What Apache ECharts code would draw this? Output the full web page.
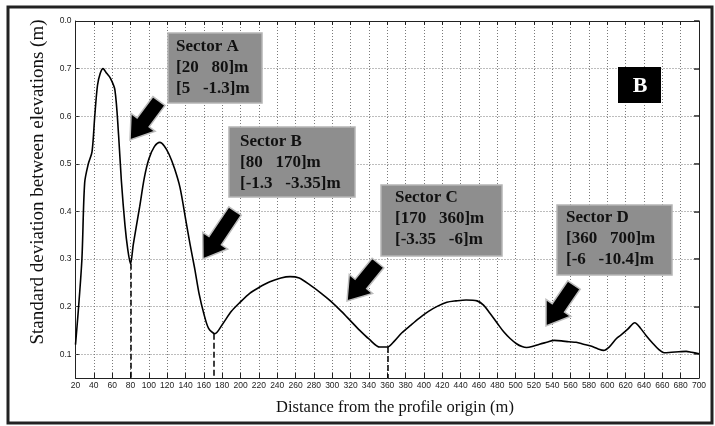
<!DOCTYPE html>
<html>
<head>
<meta charset="utf-8">
<script src="https://cdn.jsdelivr.net/npm/echarts@6/dist/echarts.min.js"></script>
<style>html,body{margin:0;padding:0;background:#fff;}#c{width:715px;height:426px;}</style>
</head>
<body>
<div id="c"></div>
<script>
// ---- data ----
var distance = [20,23,27,30,34,38,41,44,47,50,54,58,63,67,70,74,77,80,83,86,90,95,100,106,112,117,122,128,134,140,145,150,155,160,165,172,180,190,200,210,220,232,244,254,264,276,288,298,310,320,330,340,352,360,368,376,385,395,405,415,425,435,446,458,465,472,480,487,494,501,507,512,518,526,534,542,550,558,566,574,582,590,596,602,610,616,622,630,636,642,650,656,662,670,678,686,692,700];
var stdDev = [0.12,0.19,0.30,0.46,0.50,0.525,0.60,0.665,0.69,0.70,0.69,0.68,0.655,0.56,0.465,0.37,0.32,0.29,0.33,0.365,0.41,0.47,0.51,0.536,0.545,0.537,0.52,0.49,0.45,0.385,0.33,0.28,0.225,0.185,0.155,0.143,0.162,0.19,0.21,0.228,0.24,0.252,0.26,0.263,0.26,0.245,0.228,0.212,0.19,0.17,0.15,0.132,0.115,0.115,0.128,0.145,0.16,0.176,0.19,0.201,0.209,0.212,0.214,0.212,0.203,0.186,0.165,0.147,0.133,0.122,0.116,0.114,0.116,0.121,0.125,0.129,0.128,0.126,0.125,0.121,0.117,0.111,0.108,0.115,0.133,0.142,0.152,0.166,0.155,0.14,0.122,0.11,0.103,0.104,0.105,0.106,0.104,0.101];
var yTicks = [0.1,0.2,0.3,0.4,0.5,0.6,0.7,0.8];
var yTickLabels = ['0.1','0.2','0.3','0.4','0.5','0.6','0.7','0.0'];
var sectorBoundaries = [[80,0.29],[171,0.143],[360,0.115]];
var sectorTitles = ['Sector A','Sector B','Sector C','Sector D'];
var sectorDist = ['[20   80]m','[80   170]m','[170   360]m','[360   700]m'];
var sectorElev = ['[5   -1.3]m','[-1.3   -3.35]m','[-3.35   -6]m','[-6   -10.4]m'];
var panelLabel = 'B';
var xTitle = 'Distance from the profile origin (m)';
var yTitle = 'Standard deviation between elevations (m)';

var chart = echarts.init(document.getElementById('c'));
var pts = distance.map(function(d,i){return [d, stdDev[i]];});

var gridColor = '#7a7a7a';
var boxes = [
  {x:168,y:33,w:94,h:70,tx:176,ty:47},
  {x:229,y:127,w:126,h:70,tx:240,ty:142},
  {x:381,y:185,w:121,h:71,tx:395,ty:198},
  {x:557,y:205,w:115,h:70,tx:566,ty:218}
];
var arrows = [
  {t:[159,101],p:[130,140]},
  {t:[235,211],p:[203,259]},
  {t:[378,263],p:[347,301]},
  {t:[574,285],p:[546,326]}
];
function arrowPts(a){
  var dx=a.p[0]-a.t[0], dy=a.p[1]-a.t[1], L=Math.sqrt(dx*dx+dy*dy);
  var ux=dx/L, uy=dy/L, nx=-uy, ny=ux, sw=7.5, hw=15, hl=22;
  var bx=a.p[0]-ux*hl, by=a.p[1]-uy*hl;
  return [[a.t[0]+nx*sw,a.t[1]+ny*sw],[bx+nx*sw,by+ny*sw],[bx+nx*hw,by+ny*hw],[a.p[0],a.p[1]],
          [bx-nx*hw,by-ny*hw],[bx-nx*sw,by-ny*sw],[a.t[0]-nx*sw,a.t[1]-ny*sw]];
}
var graphics = [];
graphics.push({type:'rect',shape:{x:8,y:7,width:704,height:416},style:{fill:'none',stroke:'#222',lineWidth:3},z:100});
boxes.forEach(function(b,i){
  graphics.push({type:'rect',shape:{x:b.x,y:b.y,width:b.w,height:b.h},style:{fill:'#8e8e8e',stroke:'#b5b5b5',lineWidth:1.5},z:100});
  [sectorTitles[i],sectorDist[i],sectorElev[i]].forEach(function(t,k){
    graphics.push({type:'text',x:b.tx,y:b.ty+k*21,style:{text:t,fill:'#111',font:'bold 17px "Liberation Serif"',textAlign:'left',textVerticalAlign:'middle'},z:101});
  });
});
arrows.forEach(function(a){
  graphics.push({type:'polygon',shape:{points:arrowPts(a)},style:{fill:'#000',stroke:'#bdbdbd',lineWidth:1.5},z:100});
});
graphics.push({type:'rect',shape:{x:618,y:67,width:43,height:36},style:{fill:'#000'},z:100});
graphics.push({type:'text',x:640,y:86,style:{text:panelLabel,fill:'#fff',font:'bold 22px "Liberation Serif"',textAlign:'center',textVerticalAlign:'middle'},z:101});
graphics.push({type:'text',x:395,y:408,style:{text:xTitle,fill:'#111',font:'16.5px "Liberation Serif"',textAlign:'center',textVerticalAlign:'middle'},z:101});
graphics.push({type:'text',x:38,y:182,rotation:Math.PI/2,style:{text:yTitle,fill:'#111',font:'19px "Liberation Serif"',textAlign:'center',textVerticalAlign:'middle'},z:101});

var tickLbl = {fontSize:8.5,fontFamily:'Liberation Sans',color:'#222'};
chart.setOption({
  animation:false,
  grid:{left:75.5,right:16,top:21,bottom:48},
  xAxis:[
    {type:'value',min:20,max:700,interval:20,position:'bottom',
     axisLine:{lineStyle:{color:'#222',width:1}},
     axisTick:{inside:true,length:5,lineStyle:{color:'#222'}},
     axisLabel:Object.assign({margin:3,showMinLabel:true,showMaxLabel:true},tickLbl),
     splitLine:{show:true,lineStyle:{color:gridColor,type:[1,2],width:1}}},
    {type:'value',min:20,max:700,interval:20,position:'top',
     axisLine:{show:true,lineStyle:{color:'#222'}},
     axisTick:{inside:true,length:4,lineStyle:{color:'#222'}},
     axisLabel:{show:false},splitLine:{show:false}}
  ],
  yAxis:[
    {type:'value',min:0.05,max:0.8,position:'left',
     axisLine:{show:true,lineStyle:{color:'#222'}},
     axisTick:{show:true,inside:true,length:4,customValues:yTicks,lineStyle:{color:'#222'}},
     axisLabel:Object.assign({margin:4,customValues:yTicks,formatter:function(v){
        for(var i=0;i<yTicks.length;i++){ if(Math.abs(v-yTicks[i])<1e-6) return yTickLabels[i]; } return '';
     }},tickLbl),
     splitLine:{show:false}},
    {type:'value',min:0.05,max:0.8,position:'right',
     axisLine:{show:true,lineStyle:{color:'#222'}},
     axisTick:{show:true,inside:true,length:5,customValues:yTicks,lineStyle:{color:'#222',width:1.5}},
     axisLabel:{show:false},splitLine:{show:false}}
  ],
  series:[
    {type:'line',data:pts,xAxisIndex:0,yAxisIndex:0,showSymbol:false,smooth:0.3,
     lineStyle:{color:'#000',width:1.6},z:5,
     markLine:{silent:true,symbol:'none',label:{show:false},
       lineStyle:{color:gridColor,type:[1,2],width:1},
       data:yTicks.slice(0,7).map(function(v){return {yAxis:v};})}},
    {type:'line',data:[],xAxisIndex:0,yAxisIndex:0,
     markLine:{silent:true,symbol:'none',label:{show:false},
       lineStyle:{color:'#000',type:[6,3],width:1.5},
       data:sectorBoundaries.map(function(p){return [{coord:[p[0],p[1]]},{coord:[p[0],0.05]}];})}}
  ],
  graphic:graphics
});
</script>
</body>
</html>
